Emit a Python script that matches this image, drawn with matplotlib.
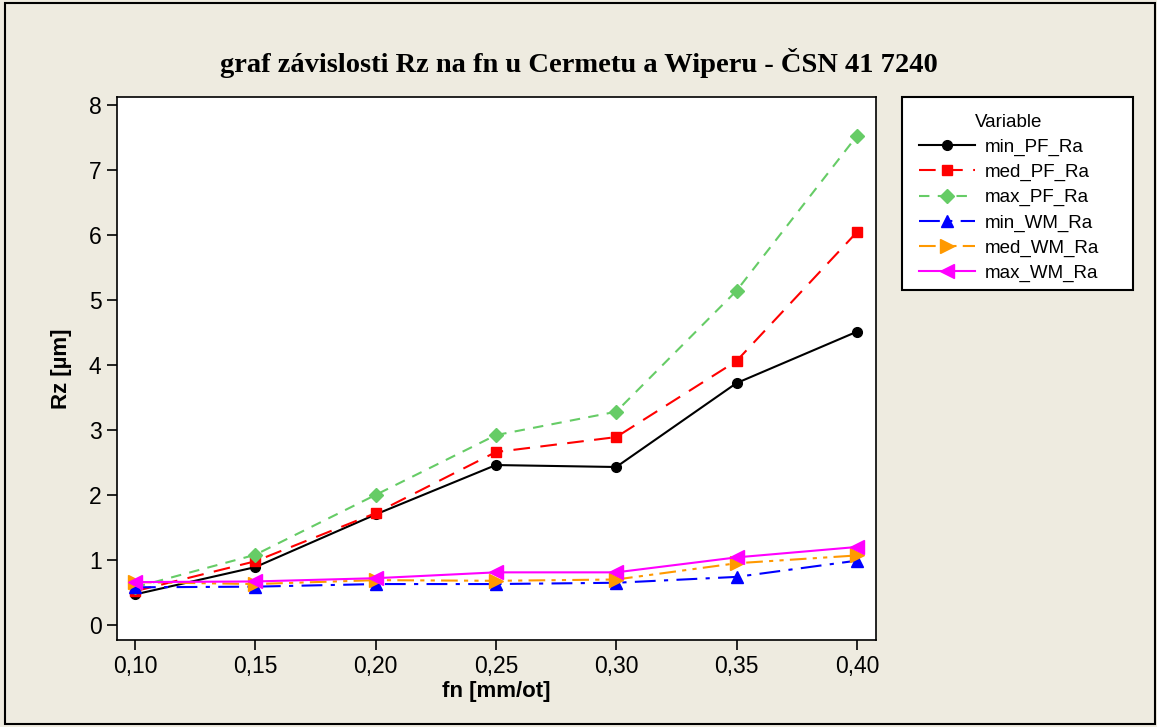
import matplotlib
matplotlib.use('Agg')
import matplotlib.pyplot as plt
from matplotlib.ticker import FuncFormatter

# data
fn = [0.10, 0.15, 0.20, 0.25, 0.30, 0.35, 0.40]
min_PF_Ra = [0.47, 0.89, 1.70, 2.46, 2.43, 3.72, 4.51]
med_PF_Ra = [0.52, 0.98, 1.72, 2.66, 2.89, 4.06, 6.04]
max_PF_Ra = [0.58, 1.08, 2.00, 2.92, 3.28, 5.14, 7.52]
min_WM_Ra = [0.58, 0.59, 0.63, 0.63, 0.65, 0.74, 0.99]
med_WM_Ra = [0.66, 0.63, 0.69, 0.68, 0.70, 0.95, 1.07]
max_WM_Ra = [0.66, 0.67, 0.72, 0.81, 0.81, 1.04, 1.20]

bg = '#EEEBE0'
fig = plt.figure(figsize=(11.57, 7.27), dpi=100, facecolor=bg)
ax = fig.add_axes([0.101, 0.1197, 0.656, 0.7469])
ax.set_facecolor('white')

# figure border
fig.patches.append(plt.Rectangle((0.004, 0.004), 0.994, 0.992, transform=fig.transFigure,
                                 fill=False, edgecolor='black', linewidth=1.5))

ax.plot(fn, min_PF_Ra, color='black', linestyle='-', marker='o', markersize=7,
        linewidth=1.5, label='min_PF_Ra')
ax.plot(fn, med_PF_Ra, color='#FF0000', linestyle=(0, (8, 5)), marker='s', markersize=7,
        linewidth=1.5, label='med_PF_Ra')
ax.plot(fn, max_PF_Ra, color='#66CC66', linestyle=(0, (5, 4)), marker='D', markersize=7,
        linewidth=1.5, label='max_PF_Ra')
ax.plot(fn, min_WM_Ra, color='#0000FF', linestyle=(0, (10, 4, 2, 4)), marker='^', markersize=9,
        linewidth=1.5, label='min_WM_Ra')
ax.plot(fn, med_WM_Ra, color='#FF9900', linestyle=(0, (8, 3, 2, 3, 2, 3)), marker='>', markersize=10,
        linewidth=1.5, label='med_WM_Ra')
ax.plot(fn, max_WM_Ra, color='#FF00FF', linestyle='-', marker='<', markersize=10,
        linewidth=1.5, label='max_WM_Ra')

ax.set_xlim(0.0925, 0.4079)
ax.set_ylim(-0.23, 8.12)
ax.set_xticks(fn)
ax.set_yticks(range(0, 9))
ax.xaxis.set_major_formatter(FuncFormatter(lambda v, p: f'{v:.2f}'.replace('.', ',')))
ax.tick_params(axis='both', direction='out', length=7, width=1.2, labelsize=16.5,
               top=False, right=False, pad=4)
for lab in ax.get_xticklabels() + ax.get_yticklabels():
    lab.set_family('Liberation Sans')
for s in ax.spines.values():
    s.set_linewidth(1.2)

ax.set_xlabel('fn [mm/ot]', fontsize=16, fontweight='bold', family='Liberation Sans', labelpad=2)
ax.set_ylabel('Rz [µm]', fontsize=16, fontweight='bold', family='Liberation Sans', labelpad=12)

fig.text(0.5, 0.913, 'graf závislosti Rz na fn u Cermetu a Wiperu - ČSN 41 7240',
         ha='center', va='center', fontsize=20.5, fontweight='bold', family='Liberation Serif')

# legend box
fig.patches.append(plt.Rectangle((0.7796, 0.601), 0.1997, 0.2656, transform=fig.transFigure,
                                 facecolor='white', edgecolor='black', linewidth=1.5))
leg = fig.legend(loc='upper left', bbox_to_anchor=(0.7796, 0.8666), title='Variable',
                 frameon=False, handlelength=3.0, handletextpad=0.5, borderpad=0.4,
                 labelspacing=0.42, prop={'family': 'Liberation Sans', 'size': 13.5})
leg.get_title().set_family('Liberation Sans')
leg.get_title().set_fontsize(13.5)

fig.savefig('out.png', dpi=100, facecolor=bg)
